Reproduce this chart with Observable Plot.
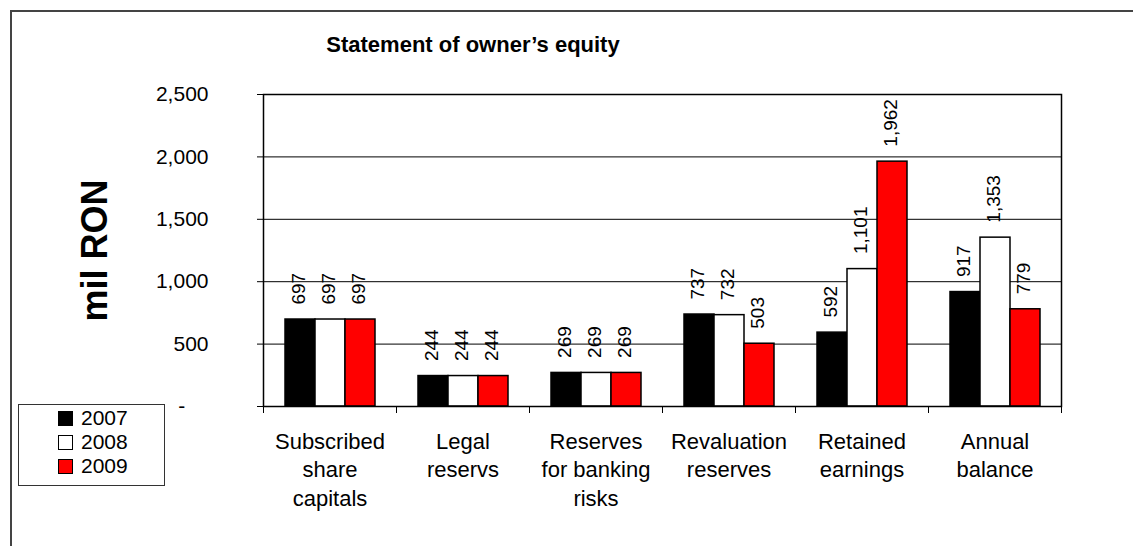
<!DOCTYPE html>
<html>
<head>
<meta charset="utf-8">
<script src="https://cdn.jsdelivr.net/npm/d3@7"></script>
<script src="https://cdn.jsdelivr.net/npm/@observablehq/plot@0.6"></script>
<style>
  html, body { margin: 0; padding: 0; background: #fff; }
  body { font-family: "Liberation Sans", Arial, sans-serif; color: #000; }
  #wrap { position: relative; width: 1133px; height: 546px; overflow: hidden; background: #fff; }
  #chart { position: absolute; left: 0; top: 0; }
  #outer { position: absolute; left: 10px; top: 10px; width: 1200px; height: 600px;
           border-left: 2px solid #444; border-top: 2px solid #444; box-sizing: border-box; pointer-events: none; }
  #title { position: absolute; left: 473px; top: 34px; transform: translateX(-50%);
           font-weight: bold; font-size: 22px; line-height: 22px; white-space: nowrap; }
  #legend { position: absolute; left: 18px; top: 404px; width: 147px; height: 82px; box-sizing: border-box;
            border: 1px solid #333; background: #fff; padding-top: 1px; }
  .row { height: 24px; display: flex; align-items: center; padding-left: 39px; font-size: 21px; }
  .sw { width: 13px; height: 13px; border: 1px solid #000; margin-right: 8px; flex: none; }
  g[aria-label="y-axis label"] { font-size: 36px; font-weight: bold; }
</style>
</head>
<body>
<div id="wrap">
  <div id="chart"></div>
  <div id="outer"></div>
  <div id="title">Statement of owner’s equity</div>
  <div id="legend"></div>
</div>
<script>
const categories = ["Subscribed share capitals", "Legal reservs", "Reserves for banking risks", "Revaluation reserves", "Retained earnings", "Annual balance"];
const categoryLines = ["Subscribed\nshare\ncapitals", "Legal\nreservs", "Reserves\nfor banking\nrisks", "Revaluation\nreserves", "Retained\nearnings", "Annual\nbalance"];
const years = ["2007", "2008", "2009"];
const values2007 = [697, 244, 269, 737, 592, 917];
const values2008 = [697, 244, 269, 732, 1101, 1353];
const values2009 = [697, 244, 269, 503, 1962, 779];
const yearColors = ["#000000", "#ffffff", "#ff0000"];
const yTicks = [0, 500, 1000, 1500, 2000, 2500];
const gridTicks = [500, 1000, 1500, 2000];
const yLabel = "mil RON";

const series = [values2007, values2008, values2009];
const data = categories.flatMap((c, i) => years.map((yr, j) => ({category: c, year: yr, value: series[j][i]})));
const labelOf = new Map(categories.map((c, i) => [c, categoryLines[i]]));
const fmt = d3.format(",");

const chart = Plot.plot({
  width: 1133,
  height: 546,
  marginLeft: 262,
  marginRight: 72,
  marginTop: 94,
  marginBottom: 140,
  style: {fontFamily: '"Liberation Sans", Arial, sans-serif', color: "#000", background: "transparent", overflow: "visible"},
  fx: {domain: categories, padding: 0, label: null},
  x: {domain: years, paddingInner: 0, paddingOuter: 0.7, axis: null},
  y: {domain: [0, 2500], label: null},
  color: {domain: years, range: yearColors},
  marks: [
    Plot.ruleY(gridTicks, {stroke: "#000", strokeWidth: 1}),
    Plot.barY(data, {fx: "category", x: "year", y: "value", fill: "year", stroke: "#000", strokeWidth: 1.5}),
    Plot.text(data, {fx: "category", x: "year", y: "value", text: d => fmt(d.value), rotate: -90,
                     textAnchor: "start", dy: -15, dx: -2, fontSize: 19, fill: "#000"}),
    Plot.frame({facet: "super", stroke: "#000", strokeWidth: 1.5}),
    Plot.frame({anchor: "left", insetTop: 312, insetBottom: -6, stroke: "#000"}),
    Plot.frame({anchor: "right", insetTop: 312, insetBottom: -6, stroke: "#000"}),
    Plot.axisY({ticks: yTicks, tickSize: 6, tickPadding: 49, fontSize: 21,
                tickFormat: d => d === 0 ? "-\u00a0\u00a0\u00a0\u00a0" : fmt(d),
                label: yLabel, labelAnchor: "center", labelOffset: 182, labelArrow: "none"}),
    Plot.axisFx({anchor: "bottom", tickSize: 0, tickPadding: 22, fontSize: 22, lineHeight: 1.3,
                 tickFormat: d => labelOf.get(d), label: null})
  ]
});
document.getElementById("chart").appendChild(chart);

const legend = document.getElementById("legend");
years.forEach((yr, i) => {
  const row = document.createElement("div");
  row.className = "row";
  const sw = document.createElement("span");
  sw.className = "sw";
  sw.style.background = yearColors[i];
  row.appendChild(sw);
  row.appendChild(document.createTextNode(yr));
  legend.appendChild(row);
});
</script>
</body>
</html>
